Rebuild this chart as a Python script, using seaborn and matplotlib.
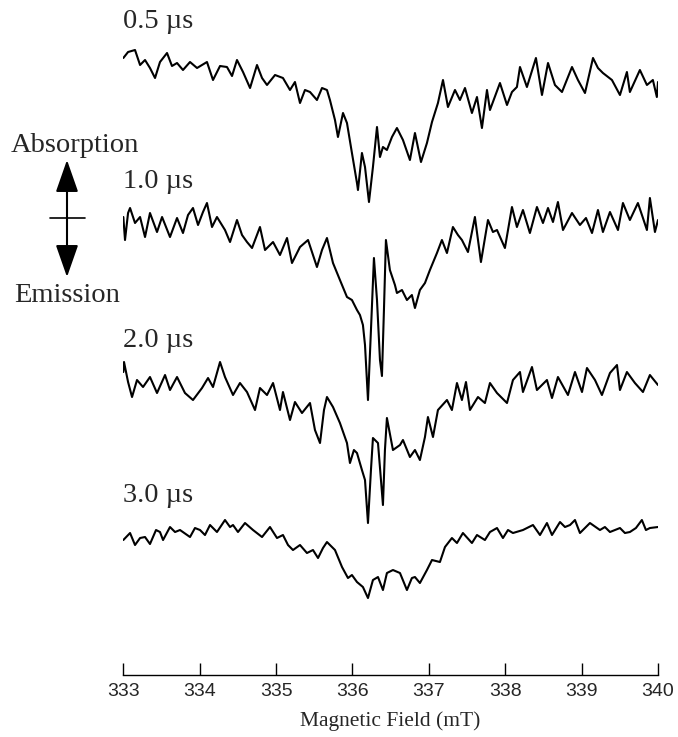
import numpy as np
import pandas as pd
import matplotlib
matplotlib.use("Agg")
import matplotlib.pyplot as plt
from matplotlib.lines import Line2D
import seaborn as sns

# TR-EPR traces: (magnetic field / mT, signal / a.u.)
trace_05 = np.array([
    [333.000, 0], [333.062, 6], [333.153, 8], [333.219, -7], [333.284, -2], [333.349, -10],
    [333.415, -20], [333.480, -4], [333.572, 5], [333.637, -8], [333.703, -5], [333.781, -12],
    [333.873, -4], [333.965, -10], [334.095, -4], [334.174, -22], [334.266, -8], [334.357, -9],
    [334.423, -18], [334.488, -2], [334.567, -14], [334.659, -30], [334.750, -7], [334.816, -20],
    [334.881, -27], [334.986, -17], [335.090, -20], [335.182, -32], [335.247, -24], [335.313, -45],
    [335.378, -32], [335.444, -34], [335.535, -42], [335.601, -30], [335.666, -32], [335.705, -42],
    [335.771, -62], [335.810, -79], [335.876, -55], [335.928, -65], [335.993, -95], [336.059, -125],
    [336.072, -132], [336.124, -95], [336.164, -109], [336.216, -144], [336.268, -109], [336.321, -69],
    [336.360, -99], [336.399, -89], [336.451, -92], [336.517, -79], [336.582, -70], [336.661, -82],
    [336.752, -102], [336.818, -75], [336.897, -104], [336.975, -85], [337.041, -64], [337.119, -45],
    [337.185, -22], [337.250, -49], [337.342, -32], [337.407, -42], [337.473, -30], [337.564, -55],
    [337.630, -39], [337.695, -70], [337.761, -32], [337.800, -52], [337.931, -25], [338.023, -47],
    [338.088, -34], [338.153, -29], [338.193, -9], [338.284, -29], [338.402, 0], [338.481, -37],
    [338.560, -5], [338.651, -27], [338.743, -34], [338.874, -9], [338.952, -22], [339.044, -35],
    [339.149, 0], [339.214, -10], [339.279, -15], [339.397, -22], [339.502, -37], [339.593, -14],
    [339.632, -34], [339.763, -12], [339.855, -27], [339.933, -22], [339.985, -39], [340.000, -24],
])

trace_10 = np.array([
    [333.000, 0], [333.022, -23], [333.062, 4], [333.088, 9], [333.153, -6], [333.219, 0],
    [333.284, -20], [333.349, 4], [333.441, -15], [333.507, 0], [333.611, -20], [333.703, -1],
    [333.781, -16], [333.847, 2], [333.912, 9], [333.978, -8], [334.043, 5], [334.095, 14],
    [334.161, -10], [334.226, 0], [334.331, -13], [334.397, -25], [334.488, -3], [334.554, -18],
    [334.619, -25], [334.685, -31], [334.789, -10], [334.855, -33], [334.960, -25], [335.051, -38],
    [335.143, -21], [335.208, -46], [335.313, -30], [335.418, -23], [335.483, -38], [335.535, -50],
    [335.601, -33], [335.666, -21], [335.745, -46], [335.836, -63], [335.928, -80], [335.993, -83],
    [336.059, -93], [336.098, -98], [336.137, -108], [336.164, -128], [336.203, -183], [336.242, -113],
    [336.281, -41], [336.321, -83], [336.360, -143], [336.386, -159], [336.412, -93], [336.438, -23],
    [336.490, -53], [336.556, -68], [336.582, -76], [336.648, -73], [336.713, -83], [336.778, -78],
    [336.818, -91], [336.883, -73], [336.949, -66], [337.014, -53], [337.106, -36], [337.171, -23],
    [337.237, -36], [337.315, -10], [337.381, -18], [337.433, -23], [337.512, -35], [337.603, 0],
    [337.682, -45], [337.774, -3], [337.839, -15], [337.892, -13], [337.996, -31], [338.088, 10],
    [338.153, -10], [338.232, 7], [338.323, -16], [338.415, 10], [338.494, -6], [338.560, 9],
    [338.625, -5], [338.690, 15], [338.756, -13], [338.874, 4], [338.978, -8], [339.057, -1],
    [339.136, -16], [339.214, 7], [339.279, -15], [339.371, 5], [339.476, -13], [339.541, 14],
    [339.632, -3], [339.737, 14], [339.803, -1], [339.855, -13], [339.894, 19], [339.960, -15],
    [340.000, -3],
])

trace_20 = np.array([
    [333.000, 1], [333.009, 11], [333.062, -9], [333.114, -24], [333.179, -7], [333.258, -14],
    [333.349, -4], [333.441, -20], [333.546, -2], [333.611, -17], [333.703, -4], [333.807, -20],
    [333.912, -27], [334.030, -15], [334.109, -5], [334.174, -14], [334.266, 11], [334.331, -4],
    [334.436, -22], [334.527, -10], [334.619, -19], [334.724, -37], [334.789, -15], [334.881, -22],
    [334.960, -10], [335.051, -37], [335.090, -19], [335.182, -47], [335.247, -29], [335.339, -40],
    [335.444, -30], [335.509, -57], [335.575, -70], [335.627, -37], [335.666, -24], [335.745, -34],
    [335.836, -50], [335.928, -70], [335.967, -90], [336.019, -77], [336.059, -80], [336.124, -97],
    [336.164, -107], [336.203, -150], [336.242, -97], [336.268, -65], [336.334, -70], [336.373, -107],
    [336.399, -132], [336.425, -77], [336.451, -45], [336.530, -77], [336.622, -72], [336.661, -67],
    [336.752, -84], [336.818, -77], [336.883, -87], [336.949, -64], [336.988, -44], [337.054, -64],
    [337.119, -37], [337.237, -27], [337.302, -37], [337.368, -10], [337.433, -27], [337.486, -9],
    [337.538, -37], [337.643, -24], [337.734, -30], [337.800, -10], [337.892, -20], [338.023, -30],
    [338.101, -7], [338.193, 1], [338.232, -19], [338.350, 6], [338.415, -17], [338.546, -7],
    [338.612, -25], [338.690, -4], [338.821, -22], [338.913, 1], [339.005, -19], [339.070, 5],
    [339.175, -7], [339.266, -22], [339.371, 0], [339.463, 8], [339.502, -17], [339.593, 1],
    [339.698, -10], [339.803, -19], [339.894, -2], [340.000, -12],
])

trace_30 = np.array([
    [333.000, 0], [333.088, 7], [333.153, -5], [333.219, 2], [333.284, 3], [333.349, -4],
    [333.428, 10], [333.480, 8], [333.520, 0], [333.611, 13], [333.677, 8], [333.742, 10],
    [333.873, 3], [333.938, 12], [334.004, 10], [334.069, 5], [334.135, 15], [334.226, 8],
    [334.331, 20], [334.397, 13], [334.436, 15], [334.501, 8], [334.593, 17], [334.698, 10],
    [334.816, 3], [334.920, 13], [335.012, 2], [335.090, 5], [335.156, -5], [335.221, -10],
    [335.313, -5], [335.404, -13], [335.483, -10], [335.549, -18], [335.614, -8], [335.666, -2],
    [335.771, -10], [335.863, -27], [335.941, -38], [335.993, -35], [336.059, -42], [336.137, -47],
    [336.203, -58], [336.268, -40], [336.334, -37], [336.399, -50], [336.451, -33], [336.530, -30],
    [336.622, -33], [336.713, -50], [336.778, -38], [336.818, -37], [336.883, -43], [336.975, -30],
    [337.041, -20], [337.145, -22], [337.211, -7], [337.302, 2], [337.368, -3], [337.446, 7],
    [337.564, -3], [337.630, 5], [337.734, 0], [337.800, 8], [337.892, 12], [337.970, 2],
    [338.036, 10], [338.101, 7], [338.232, 10], [338.363, 15], [338.455, 5], [338.546, 17],
    [338.612, 5], [338.717, 18], [338.782, 13], [338.848, 15], [338.913, 20], [338.978, 7],
    [339.109, 17], [339.240, 10], [339.305, 13], [339.371, 8], [339.502, 12], [339.567, 7],
    [339.632, 8], [339.711, 12], [339.789, 20], [339.842, 10], [339.894, 12], [340.000, 13],
])

traces = [trace_05, trace_10, trace_20, trace_30]
delay_labels = ["0.5 µs", "1.0 µs", "2.0 µs", "3.0 µs"]
offsets = [-58, -217, -373, -540]
label_y = [-28, -188, -347, -502]
field_ticks = [333, 334, 335, 336, 337, 338, 339, 340]

sns.set_style("white")
plt.rcParams["font.family"] = ["Liberation Serif", "DejaVu Serif"]

fig = plt.figure(figsize=(6.78, 7.37), dpi=100)
ax = fig.add_axes([0.1819, 0.0841, 0.7886, 0.9159])

for trace, off in zip(traces, offsets):
    df = pd.DataFrame({"field": trace[:, 0], "signal": trace[:, 1] + off})
    sns.lineplot(data=df, x="field", y="signal", ax=ax, color="black",
                 lw=1.5, sort=False, estimator=None)

for lab, ly in zip(delay_labels, label_y):
    ax.text(333.0, ly, lab, fontsize=20.5, ha="left", va="baseline")

ax.set_xlim(333, 340)
ax.set_ylim(-675, 0)
for s in ["left", "top", "right"]:
    ax.spines[s].set_visible(False)
ax.spines["bottom"].set_color("black")
ax.spines["bottom"].set_linewidth(1)
ax.set_yticks([])
ax.set_ylabel("")
ax.set_xticks(field_ticks)
ax.tick_params(axis="x", bottom=True, direction="in", length=8.5, width=1, pad=6,
               labelsize=14, labelfontfamily="Liberation Sans", color="black")
ax.set_xlabel("Magnetic Field (mT)", fontsize=15.5, labelpad=8)

# absorption / emission legend
fig.text(75 / 678, 1 - 152 / 737, "Absorption", ha="center", va="baseline", fontsize=20.5)
fig.text(67 / 678, 1 - 302 / 737, "Emission", ha="center", va="baseline", fontsize=20.5)
for tip in [160, 277]:
    ax.annotate("", xy=(67 / 678, 1 - tip / 737), xytext=(67 / 678, 1 - 218 / 737),
                xycoords="figure fraction", textcoords="figure fraction",
                arrowprops=dict(arrowstyle="-|>,head_length=2.0,head_width=0.7",
                                mutation_scale=10, color="black", lw=1.5,
                                shrinkA=0, shrinkB=0))
fig.add_artist(Line2D([50 / 678, 85 / 678], [1 - 218 / 737] * 2,
                      transform=fig.transFigure, color="black", lw=1.2))

fig.savefig("out.png", dpi=100)
